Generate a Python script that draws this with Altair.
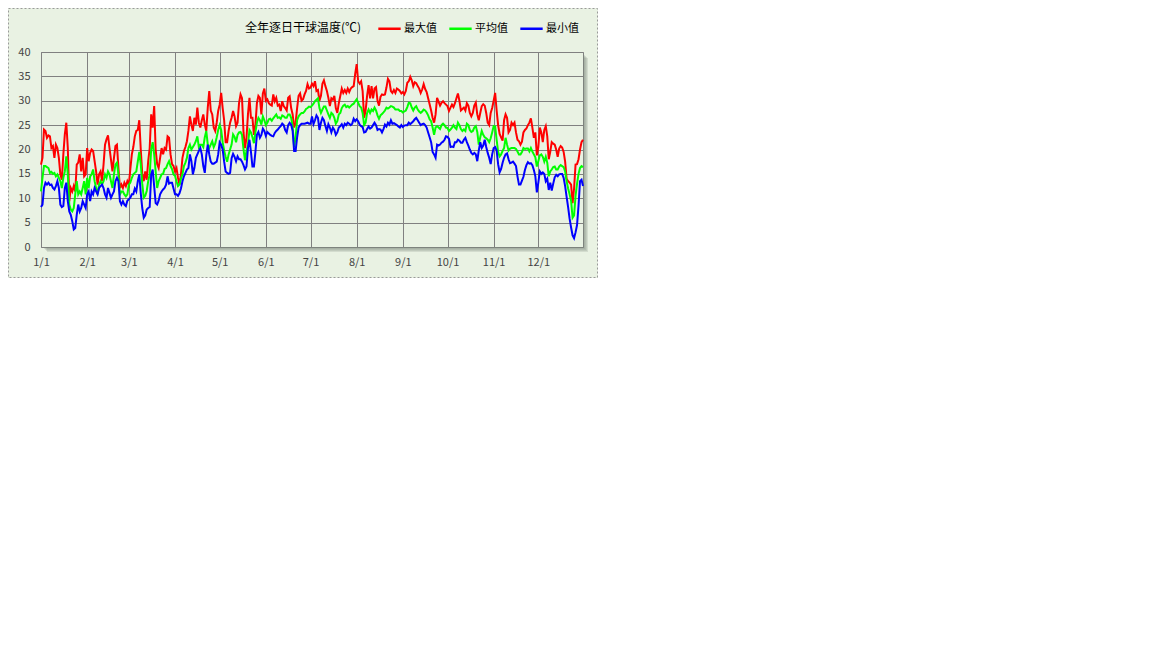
import json
import altair as alt
import pandas as pd

# ---------------- data ----------------
series_names = ["最大值", "平均值", "最小值"]
series_colors = ["#FF0000", "#00FF00", "#0000FF"]
month_labels = ["1/1", "2/1", "3/1", "4/1", "5/1", "6/1", "7/1", "8/1", "9/1", "10/1", "11/1", "12/1"]
month_start_days = [0, 31, 59, 90, 120, 151, 181, 212, 243, 273, 304, 334]
y_ticks = [0, 5, 10, 15, 20, 25, 30, 35, 40]
chart_title = "全年逐日干球温度(℃)"

max_vals = (
    # Jan
    [16.9, 18.3, 24.1, 23.8, 22.4, 22.9, 22.7, 20.3, 20.7, 18.3, 21.0, 20.3, 18.3, 14.9, 13.8, 19.0,
     23.1, 25.5, 20.3, 9.4, 12.1, 11.4, 12.5, 11.4, 16.9, 17.3, 19.0, 15.5, 18.3, 14.5, 14.9]
    # Feb
    + [20.3, 17.6, 19.3, 20.0, 19.7, 17.6, 15.5, 12.8, 14.9, 15.5, 13.5, 16.9, 21.0, 22.1, 22.9, 20.3,
       17.9, 15.5, 18.3, 20.7, 21.0, 16.2, 12.1, 12.8, 12.1, 13.2, 12.5, 13.5]
    # Mar
    + [12.8, 16.0, 19.0, 20.5, 22.7, 23.8, 24.0, 26.0, 20.0, 15.0, 13.5, 15.5, 13.8, 17.6, 20.3, 27.2,
       24.5, 28.9, 20.0, 17.0, 16.2, 18.3, 20.3, 19.0, 20.3, 20.0, 22.7, 22.4, 19.0, 17.0, 16.6]
    # Apr
    + [15.5, 16.2, 14.2, 12.8, 14.9, 18.3, 19.7, 20.5, 21.7, 23.8, 26.8, 25.1, 23.8, 26.5, 25.1, 28.6,
       25.5, 24.5, 26.0, 27.2, 25.1, 23.8, 28.6, 32.0, 28.0, 27.2, 24.5, 23.8, 25.5, 27.9]
    # May
    + [29.2, 31.6, 28.5, 26.0, 21.5, 21.5, 23.8, 25.5, 26.5, 27.9, 26.8, 24.8, 25.5, 29.5, 31.3, 30.5,
       23.5, 20.3, 22.4, 27.2, 30.6, 26.5, 26.5, 23.0, 25.0, 29.5, 31.0, 30.6, 27.2, 31.5, 32.5]
    # Jun
    + [30.0, 30.3, 29.5, 29.2, 29.0, 31.3, 29.9, 30.6, 29.0, 29.2, 27.9, 29.9, 28.9, 28.5, 28.0, 30.6,
       30.9, 28.5, 27.2, 24.5, 25.5, 28.5, 31.0, 31.5, 30.0, 30.3, 31.3, 32.0, 33.4, 32.5]
    # Jul
    + [32.7, 33.5, 33.0, 34.0, 32.0, 32.2, 30.0, 31.0, 33.5, 34.2, 33.0, 32.0, 30.6, 28.9, 30.5, 30.2,
       31.0, 28.5, 27.5, 29.5, 31.0, 32.5, 31.6, 32.2, 31.6, 32.5, 31.8, 32.5, 32.8, 33.0, 35.5]
    # Aug
    + [37.5, 34.0, 33.5, 34.0, 32.0, 26.5, 28.0, 31.0, 33.2, 30.5, 33.0, 30.5, 32.5, 32.8, 30.0, 29.0,
       30.8, 31.3, 31.2, 31.3, 32.7, 34.5, 34.0, 32.0, 31.6, 32.2, 31.6, 32.5, 32.3, 32.0, 31.5]
    # Sep
    + [31.8, 31.3, 32.0, 33.7, 34.0, 34.9, 34.2, 33.0, 33.8, 33.6, 33.0, 32.5, 31.6, 32.3, 33.4, 32.4,
       31.8, 30.5, 29.3, 28.0, 26.5, 25.5, 27.2, 30.6, 29.8, 29.0, 29.6, 29.9, 29.5, 29.2]
    # Oct
    + [28.9, 27.9, 28.6, 29.2, 28.7, 29.5, 30.5, 31.5, 30.0, 28.0, 28.3, 28.6, 28.0, 29.5, 29.0, 27.5,
       26.8, 27.5, 29.0, 29.6, 27.2, 26.0, 27.5, 28.9, 29.3, 29.0, 27.5, 25.5, 25.0, 27.5, 28.5]
    # Nov
    + [30.0, 31.6, 28.0, 25.0, 23.2, 22.5, 21.8, 26.0, 27.2, 26.5, 23.5, 24.0, 25.5, 25.0, 25.5, 23.5,
       22.0, 21.7, 21.0, 21.6, 23.5, 24.0, 24.3, 25.0, 25.5, 26.4, 24.5, 22.4, 23.5, 18.8]
    # Dec
    + [20.5, 24.5, 23.5, 21.5, 24.0, 24.8, 22.7, 18.0, 19.5, 21.5, 21.2, 21.0, 20.0, 18.5, 20.2, 20.7,
       20.4, 19.5, 17.5, 14.0, 13.5, 13.2, 12.8, 9.0, 12.0, 16.9, 17.0, 18.0, 20.0, 21.5, 22.0]
)

avg_vals = (
    [11.4, 14.2, 16.6, 16.6, 16.4, 16.2, 15.2, 15.4, 15.0, 15.2, 14.5, 14.9, 14.2, 13.5, 12.1, 14.2,
     15.5, 18.6, 14.9, 8.7, 7.7, 7.3, 8.0, 10.8, 13.5, 10.8, 11.4, 10.8, 12.1, 13.5, 10.8]
    + [14.2, 12.1, 14.5, 14.9, 15.9, 13.5, 12.1, 10.8, 12.8, 13.5, 12.8, 13.5, 14.9, 14.2, 15.5, 14.9,
       13.5, 12.1, 14.9, 16.9, 17.3, 14.9, 10.8, 11.4, 11.4, 10.8, 10.4, 10.8]
    + [12.8, 13.2, 14.2, 14.9, 15.2, 15.5, 17.5, 19.5, 17.0, 13.0, 10.1, 10.5, 11.5, 13.5, 14.9, 20.0,
       21.5, 19.0, 15.5, 12.1, 13.5, 14.2, 14.9, 15.0, 16.0, 16.2, 17.0, 17.6, 16.6, 16.0, 14.9]
    + [14.6, 13.5, 12.5, 12.8, 14.0, 14.9, 16.6, 17.3, 18.3, 20.3, 21.0, 20.0, 20.5, 21.0, 21.7, 22.7,
       20.5, 21.0, 21.0, 20.5, 22.5, 23.8, 21.0, 20.3, 21.0, 21.7, 20.5, 21.2, 22.5, 24.0]
    + [25.0, 24.0, 21.5, 19.8, 18.5, 17.5, 19.0, 20.0, 21.0, 23.1, 22.6, 21.5, 23.0, 23.5, 23.6, 23.0,
       20.0, 17.8, 19.7, 21.0, 24.0, 23.5, 22.5, 21.3, 23.5, 25.5, 26.5, 26.0, 25.1, 26.8, 26.0]
    + [25.0, 25.5, 26.2, 26.3, 25.9, 26.4, 26.8, 27.2, 26.5, 26.6, 26.3, 27.0, 26.8, 26.5, 26.5, 27.2,
       27.2, 26.5, 24.8, 20.5, 22.5, 26.0, 26.8, 27.2, 27.5, 27.5, 27.8, 28.3, 28.5, 28.8]
    + [28.7, 29.0, 29.4, 29.9, 30.2, 30.5, 28.5, 27.5, 28.2, 28.8, 28.8, 28.0, 27.2, 26.5, 27.5, 27.2,
       26.5, 25.3, 25.8, 27.2, 27.5, 28.5, 29.0, 29.2, 28.7, 28.9, 28.6, 28.9, 29.2, 29.4, 29.9]
    + [30.3, 29.6, 28.9, 28.6, 27.5, 25.0, 25.5, 27.5, 28.2, 27.5, 28.2, 27.9, 28.6, 28.0, 27.0, 26.3,
       27.0, 27.3, 27.6, 28.0, 28.6, 28.4, 28.6, 28.9, 28.8, 28.6, 28.2, 28.2, 28.2, 27.9, 27.9]
    + [27.6, 27.8, 28.0, 28.7, 29.6, 29.5, 28.6, 28.0, 28.6, 28.9, 28.2, 27.8, 27.5, 27.8, 28.2, 28.0,
       27.6, 27.0, 26.2, 25.8, 24.5, 23.0, 24.5, 24.8, 24.5, 24.2, 25.0, 25.3, 25.0, 24.5]
    + [24.4, 23.8, 24.1, 24.5, 25.0, 24.5, 24.2, 25.5, 25.0, 24.2, 23.8, 24.1, 23.8, 25.3, 25.0, 24.0,
       23.6, 23.8, 24.5, 24.8, 23.6, 21.0, 22.5, 23.8, 23.0, 22.5, 22.3, 22.0, 21.5, 22.3, 23.5]
    + [24.8, 24.7, 22.0, 19.5, 18.6, 19.0, 19.7, 20.3, 22.4, 21.0, 19.8, 20.2, 20.3, 20.3, 20.3, 20.1,
       19.6, 19.0, 19.0, 19.5, 20.3, 20.1, 20.2, 20.2, 19.6, 20.3, 19.6, 19.0, 18.4, 16.5]
    + [17.6, 18.8, 19.0, 18.5, 17.5, 18.5, 17.3, 14.5, 15.5, 15.9, 16.4, 16.5, 15.9, 15.9, 16.5, 16.8,
       16.6, 16.4, 15.5, 13.5, 12.0, 10.8, 9.5, 6.0, 6.5, 10.5, 13.0, 15.0, 16.2, 16.6, 16.4]
)

min_vals = (
    [8.2, 8.7, 12.1, 13.2, 12.8, 13.2, 12.7, 12.8, 12.1, 11.8, 12.5, 13.5, 12.1, 8.7, 8.2, 8.4,
     12.1, 13.2, 9.4, 7.3, 6.6, 5.3, 3.6, 3.9, 6.6, 8.7, 7.3, 8.0, 9.4, 8.7, 8.0]
    + [10.8, 11.4, 9.4, 11.4, 10.8, 12.1, 11.4, 10.8, 12.1, 12.5, 12.8, 12.1, 10.8, 10.1, 12.1, 11.1,
       10.1, 10.8, 11.4, 13.5, 14.2, 13.5, 9.4, 8.7, 9.4, 8.7, 8.4, 9.5]
    + [9.8, 10.1, 10.8, 10.8, 12.0, 11.4, 13.5, 14.9, 11.0, 8.0, 6.0, 6.5, 7.7, 8.0, 8.2, 14.9,
       15.9, 12.5, 9.0, 8.7, 9.5, 10.8, 11.4, 11.8, 12.1, 12.8, 14.5, 13.0, 13.2, 13.2, 12.0]
    + [10.8, 10.8, 10.5, 11.0, 12.0, 13.5, 14.5, 15.2, 15.9, 16.2, 19.0, 17.6, 14.9, 16.2, 18.3, 19.0,
       19.7, 20.3, 19.0, 16.6, 15.2, 18.8, 21.0, 19.0, 17.5, 17.1, 17.1, 17.3, 17.5, 19.0]
    + [21.5, 21.0, 20.0, 17.5, 15.5, 15.2, 15.0, 15.2, 18.2, 19.1, 18.5, 17.6, 18.6, 18.0, 18.0, 17.5,
       16.8, 15.9, 16.5, 20.3, 22.0, 19.5, 16.5, 16.5, 19.5, 23.0, 23.6, 22.4, 23.0, 24.3, 23.8]
    + [22.8, 23.6, 23.3, 23.0, 22.8, 22.7, 23.4, 23.8, 24.1, 24.5, 24.8, 25.3, 25.0, 24.0, 23.5, 25.0,
       25.5, 25.1, 23.8, 19.7, 19.7, 22.5, 24.5, 25.0, 25.3, 25.3, 25.3, 25.4, 25.5, 25.3]
    + [25.3, 26.8, 25.2, 26.0, 27.0, 26.5, 24.0, 25.5, 26.5, 26.0, 24.8, 23.8, 25.2, 24.5, 23.5, 24.5,
       24.0, 23.0, 23.5, 24.5, 24.8, 25.2, 24.5, 25.3, 25.0, 25.5, 25.3, 25.0, 25.3, 26.3, 25.8]
    + [26.2, 25.8, 25.1, 24.8, 24.6, 23.5, 23.6, 24.2, 24.7, 24.3, 24.5, 25.0, 25.5, 25.0, 24.0, 24.2,
       24.1, 23.5, 24.2, 25.1, 24.7, 25.5, 25.1, 26.0, 25.3, 25.4, 25.2, 25.0, 24.7, 24.5, 25.0]
    + [24.6, 24.9, 25.0, 25.0, 25.5, 25.2, 25.5, 25.8, 26.2, 26.5, 26.0, 25.5, 25.0, 25.2, 25.3, 25.0,
       24.5, 23.5, 22.5, 21.5, 19.5, 19.0, 18.3, 21.0, 20.8, 21.0, 21.4, 21.6, 22.0, 22.7]
    + [22.6, 22.2, 20.5, 20.6, 20.5, 21.5, 21.5, 22.0, 21.8, 21.4, 21.4, 22.0, 22.4, 21.5, 20.8, 20.0,
       19.3, 19.0, 19.3, 19.0, 17.6, 19.8, 21.5, 20.3, 20.8, 22.0, 20.5, 19.3, 18.3, 17.0, 19.0]
    + [20.3, 20.5, 19.8, 17.0, 15.3, 16.0, 17.3, 18.3, 19.0, 19.2, 18.0, 17.2, 17.3, 17.5, 17.1, 16.6,
       14.5, 12.8, 12.8, 13.6, 14.4, 15.8, 16.8, 17.4, 17.1, 17.2, 16.8, 15.8, 14.5, 11.2]
    + [13.2, 15.5, 15.0, 15.3, 15.0, 13.5, 14.0, 11.7, 13.2, 11.6, 13.0, 14.3, 14.8, 14.5, 14.9, 15.0,
       15.0, 14.2, 12.5, 10.3, 8.2, 5.8, 4.0, 2.4, 1.8, 3.0, 4.5, 8.5, 13.5, 13.8, 12.5]
)

# ---------------- table ----------------
rows = []
for name, vals in zip(series_names, [max_vals, avg_vals, min_vals]):
    for d, v in enumerate(vals):
        rows.append({"day": d, "temp": v, "series": name})
df = pd.DataFrame(rows)
one = pd.DataFrame({"k": [0]})

FONT = "Noto Sans CJK SC"
BG = "#E9F2E3"
W, H = 542, 195
PAD = {"left": 33, "top": 44, "right": 15, "bottom": 31}

label_expr = f"{json.dumps(month_labels)}[indexof({json.dumps(month_start_days)}, datum.value)]"

x_enc = alt.X(
    "day:Q",
    scale=alt.Scale(domain=[0, 364], nice=False, zero=False),
    axis=alt.Axis(
        values=month_start_days, labelExpr=label_expr, grid=True, gridColor="#808080",
        ticks=False, domain=False, labelPadding=9, labelFlush=False, labelOverlap=False,
        labelFont=FONT, labelFontSize=11, labelColor="#444444", title=None,
    ),
)
y_enc = alt.Y(
    "temp:Q",
    scale=alt.Scale(domain=[0, 40], nice=False, zero=True),
    axis=alt.Axis(
        values=y_ticks, grid=True, gridColor="#808080", ticks=False, domain=False,
        labelPadding=11, labelFont=FONT, labelFontSize=11, labelColor="#444444", title=None,
    ),
)

lines = alt.Chart(df).mark_line(strokeWidth=2).encode(
    x=x_enc,
    y=y_enc,
    color=alt.Color(
        "series:N",
        scale=alt.Scale(domain=series_names, range=series_colors),
        sort=series_names,
        legend=alt.Legend(
            title=None, orient="none", legendX=336, legendY=-36, direction="horizontal",
            symbolType="stroke", symbolSize=500, symbolStrokeWidth=2.5,
            labelFont=FONT, labelFontSize=11, labelColor="#000000", labelOffset=2,
            columnPadding=7, padding=0,
        ),
    ),
)

# drop shadow of plot area (soft gray strips on the right and bottom)
shadow_layers = []
for k in range(1, 6):
    shadow_layers.append(
        alt.Chart(one).mark_rect(color="#7f877f", opacity=0.2).encode(
            x=alt.value(W), x2=alt.value(W + k), y=alt.value(k + 1), y2=alt.value(H + k)
        )
    )
    shadow_layers.append(
        alt.Chart(one).mark_rect(color="#7f877f", opacity=0.2).encode(
            x=alt.value(k + 1), x2=alt.value(W), y=alt.value(H), y2=alt.value(H + k)
        )
    )

frame = alt.Chart(one).mark_rect(
    filled=False, stroke="#9a9a9a", strokeWidth=1, strokeDash=[2, 2]
).encode(
    x=alt.value(-PAD["left"] + 0.5), x2=alt.value(W + PAD["right"] - 0.5),
    y=alt.value(-PAD["top"] + 0.5), y2=alt.value(H + PAD["bottom"] - 0.5),
)

chart = alt.layer(frame, *shadow_layers, lines).properties(
    width=W,
    height=H,
    padding=PAD,
    autosize=alt.AutoSizeParams(type="none"),
    background=BG,
    title=alt.TitleParams(
        chart_title, anchor="middle", frame="group", font=FONT, fontSize=12,
        fontWeight="normal", color="#000000", offset=0, dx=-9, dy=27,
    ),
).configure_view(stroke="#808080", strokeWidth=1, fill=BG)

chart.save("out.html", embed_options={"renderer": "svg", "actions": False})
